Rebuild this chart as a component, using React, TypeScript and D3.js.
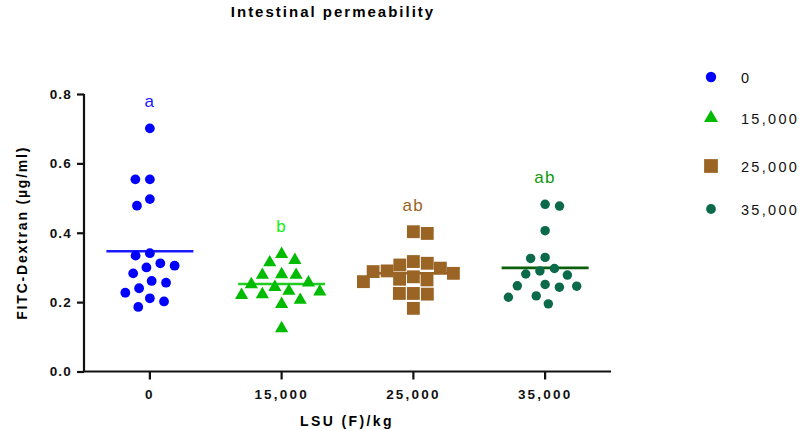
import { useEffect, useRef } from "react";
import * as d3 from "d3";

// LSU (F)/kg groups and their FITC-Dextran readings (µg/ml)
const groups = ["0", "15,000", "25,000", "35,000"];
const lsu0 = [0.701, 0.554, 0.554, 0.497, 0.478, 0.341, 0.334, 0.312, 0.3, 0.305, 0.283, 0.256, 0.261, 0.24, 0.227, 0.211, 0.202, 0.186];
const lsu15000 = [0.341, 0.324, 0.317, 0.281, 0.281, 0.283, 0.259, 0.254, 0.246, 0.235, 0.225, 0.233, 0.223, 0.209, 0.197, 0.127];
const lsu25000 = [0.403, 0.398, 0.312, 0.317, 0.298, 0.307, 0.288, 0.29, 0.283, 0.273, 0.266, 0.259, 0.264, 0.225, 0.223, 0.225, 0.182];
const lsu35000 = [0.477, 0.482, 0.406, 0.326, 0.329, 0.281, 0.29, 0.297, 0.278, 0.251, 0.246, 0.243, 0.247, 0.218, 0.214, 0.195];
const letters = ["a", "b", "ab", "ab"];
const yTicks = [0, 0.2, 0.4, 0.6, 0.8];

const series = [lsu0, lsu15000, lsu25000, lsu35000];
const COLORS = ["#0000ff", "#00bb00", "#9a6424", "#0b6a4a"];
const MEAN_COLORS = ["#1a1aff", "#22cc22", "#9a6424", "#0b5e0b"];
const LETTER_COLORS = ["#1a1aff", "#11ee11", "#9a6424", "#119911"];
const SHAPES = [d3.symbolCircle, d3.symbolTriangle, d3.symbolSquare, d3.symbolCircle];
const SIZES = [75, 75, 165, 70];
const SEPS = [14.5, 14.5, 14, 14.5];
const FONT = "'Liberation Sans', Arial, sans-serif";

// greedy beeswarm: each point goes as near the centre as it can without overlap
function swarm(values: number[], y: (v: number) => number, sep: number) {
  const pts = values.map((v) => ({ v, y: y(v), x: 0 }));
  const order = pts.slice().sort((a, b) => b.v - a.v);
  const placed: typeof pts = [];
  order.forEach((p, i) => {
    const cands = [0];
    placed.forEach((q) => {
      const dy = Math.abs(q.y - p.y);
      if (dy < sep) {
        const dx = Math.sqrt(sep * sep - dy * dy);
        cands.push(q.x + dx, q.x - dx);
      }
    });
    cands.sort((a, b) => Math.abs(a) - Math.abs(b) || (i % 2 ? b - a : a - b));
    const ok = cands.find((c) =>
      placed.every((q) => Math.hypot(q.x - c, q.y - p.y) >= sep - 1e-6)
    );
    p.x = ok ?? 0;
    placed.push(p);
  });
  return pts;
}

export default function App() {
  const svgRef = useRef<SVGSVGElement>(null);

  useEffect(() => {
    if (!svgRef.current) return;
    const W = 800, H = 431;
    d3.select(svgRef.current).selectAll("*").remove();
    const svg = d3.select(svgRef.current).attr("width", W).attr("height", H);

    const x = d3.scaleBand().domain(groups).range([84, 611]);
    const y = d3.scaleLinear().domain([0, 0.8]).range([371.5, 94]);
    const cx = (g: string) => (x(g) ?? 0) + x.bandwidth() / 2;

    // title
    svg.append("text")
      .attr("x", 333).attr("y", 17)
      .attr("text-anchor", "middle")
      .attr("font-family", FONT).attr("font-size", 15).attr("font-weight", 700)
      .attr("letter-spacing", 2)
      .text("Intestinal permeability");

    // y axis
    const yAxis = svg.append("g").attr("transform", "translate(84,0)")
      .call(d3.axisLeft(y).tickValues(yTicks).tickFormat(d3.format(".1f")).tickSize(7).tickPadding(5));
    yAxis.select(".domain").attr("stroke", "#111").attr("stroke-width", 2.2).attr("d", `M0,${y(0.8)}V${y(0)}`);
    yAxis.selectAll(".tick line").attr("stroke", "#111").attr("stroke-width", 2.2);
    yAxis.selectAll(".tick text")
      .attr("font-family", FONT).attr("font-size", 13.5).attr("font-weight", 700)
      .attr("letter-spacing", 1.2).attr("fill", "#111");

    // x axis
    const xAxis = svg.append("g").attr("transform", `translate(0,${y(0)})`)
      .call(d3.axisBottom(x).tickSize(8).tickPadding(10));
    xAxis.select(".domain").attr("stroke", "#111").attr("stroke-width", 2.2).attr("d", `M${83},0H${611}`);
    xAxis.selectAll(".tick line").attr("stroke", "#111").attr("stroke-width", 2.2);
    xAxis.selectAll(".tick text")
      .attr("font-family", FONT).attr("font-size", 13.5).attr("font-weight", 700)
      .attr("letter-spacing", 2.2).attr("fill", "#111");

    // axis titles
    svg.append("text")
      .attr("x", 347).attr("y", 426)
      .attr("text-anchor", "middle")
      .attr("font-family", FONT).attr("font-size", 14).attr("font-weight", 700)
      .attr("letter-spacing", 2.4)
      .text("LSU (F)/kg");
    svg.append("text")
      .attr("transform", `translate(27,${(y(0) + y(0.8)) / 2}) rotate(-90)`)
      .attr("text-anchor", "middle")
      .attr("font-family", FONT).attr("font-size", 14).attr("font-weight", 700)
      .attr("letter-spacing", 1.8)
      .text("FITC-Dextran (µg/ml)");

    // groups: mean line, points, letter
    series.forEach((vals, i) => {
      const g = groups[i];
      const c = cx(g);
      const mean = d3.mean(vals) ?? 0;
      svg.append("line")
        .attr("x1", c - 43.5).attr("x2", c + 43.5)
        .attr("y1", y(mean)).attr("y2", y(mean))
        .attr("stroke", MEAN_COLORS[i]).attr("stroke-width", 2.6);

      const pts = swarm(vals, y, SEPS[i]);
      const sym = d3.symbol().type(SHAPES[i]).size(SIZES[i]);
      svg.append("g").selectAll("path")
        .data(pts)
        .join("path")
        .attr("d", sym)
        .attr("transform", (d) => `translate(${c + d.x},${d.y + (i === 1 ? 1 : 0)})`)
        .attr("fill", COLORS[i]);

      svg.append("text")
        .attr("x", c).attr("y", y(d3.max(vals) ?? 0) - 21)
        .attr("text-anchor", "middle")
        .attr("font-family", FONT).attr("font-size", 17)
        .attr("letter-spacing", 1.5)
        .attr("fill", LETTER_COLORS[i])
        .text(letters[i]);
    });

    // legend
    const legendY = [77, 118, 166, 209];
    groups.forEach((g, i) => {
      const sym = d3.symbol().type(SHAPES[i]).size(i === 2 ? 190 : i === 3 ? 75 : 85);
      svg.append("path")
        .attr("d", sym)
        .attr("transform", `translate(711,${legendY[i]})`)
        .attr("fill", COLORS[i]);
      svg.append("text")
        .attr("x", 741).attr("y", legendY[i] + 6)
        .attr("font-family", FONT).attr("font-size", 14.5)
        .attr("letter-spacing", 2.3)
        .attr("fill", "#111")
        .text(g);
    });
  }, []);

  return (
    <div style={{ position: "absolute", left: 0, top: 0, width: 800, height: 431, background: "#fff" }}>
      <svg ref={svgRef} style={{ display: "block" }} />
    </div>
  );
}
